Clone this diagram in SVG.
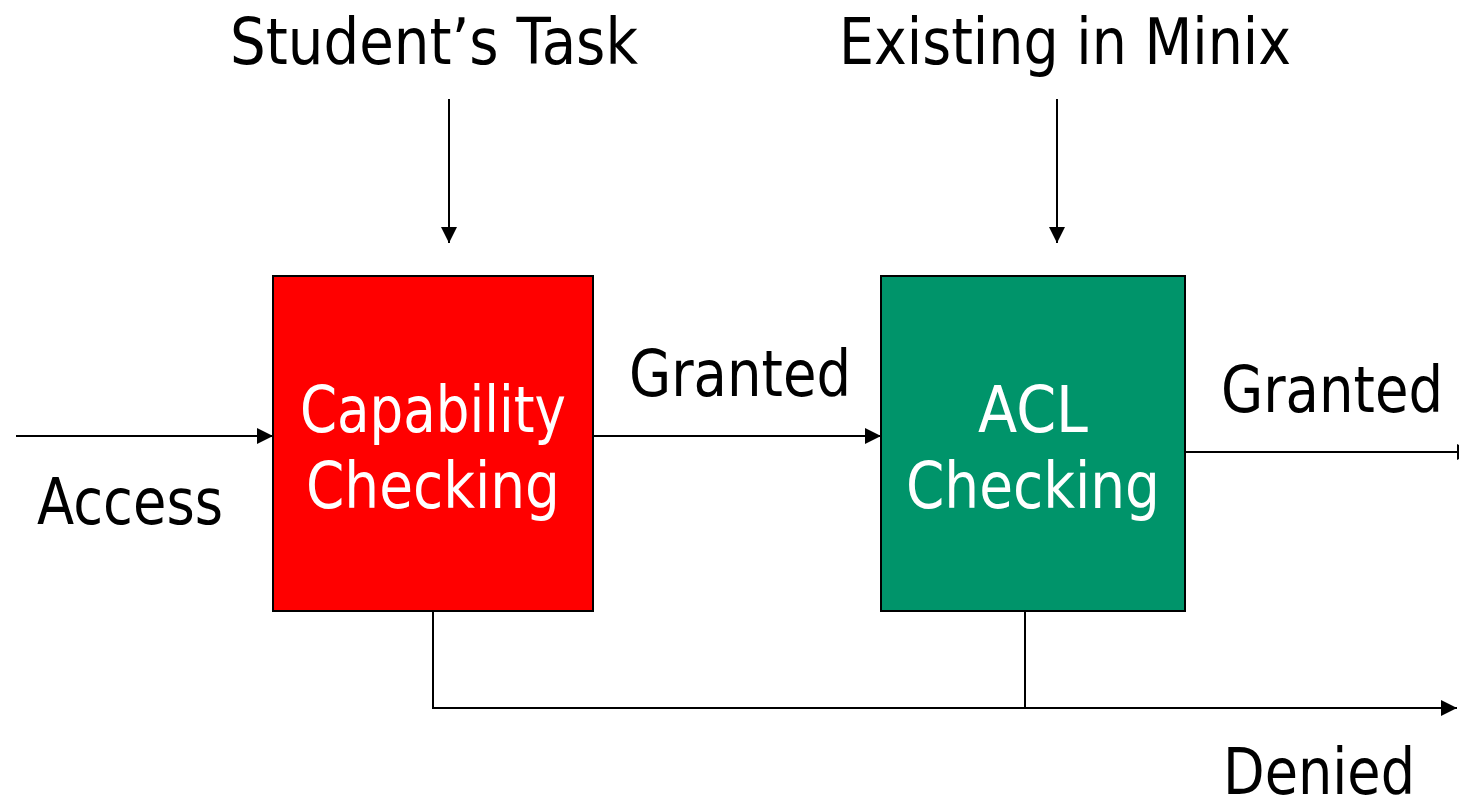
<svg xmlns="http://www.w3.org/2000/svg" width="1459" height="802" viewBox="0 0 1459 802">
<style>
text{font-family:"DejaVu Sans","Liberation Sans",sans-serif;font-size:64px;text-anchor:middle;}
.lbl{fill:#000;}
.in{fill:#fff;}
.box{stroke:#000;stroke-width:2;}
.conn{fill:none;stroke:#000;stroke-width:2;}
</style>
<defs>
<marker id="ah" markerUnits="userSpaceOnUse" markerWidth="16" markerHeight="16" refX="16" refY="8" orient="auto" viewBox="0 0 16 16">
<path d="M0,0 L16,8 L0,16 z" fill="#000"/>
</marker>
</defs>
<rect width="1459" height="802" fill="#fff"/>
<g id="connectors">
<line class="conn" x1="449" y1="99" x2="449" y2="243" marker-end="url(#ah)"/>
<line class="conn" x1="1057" y1="99" x2="1057" y2="243" marker-end="url(#ah)"/>
<line class="conn" x1="16" y1="436" x2="273" y2="436" marker-end="url(#ah)"/>
<line class="conn" x1="593" y1="436" x2="881" y2="436" marker-end="url(#ah)"/>
<line class="conn" x1="1185" y1="452" x2="1473" y2="452" marker-end="url(#ah)"/>
<path class="conn" d="M433,611 V708 H1457" marker-end="url(#ah)"/>
<path class="conn" d="M1025,611 V708"/>
</g>
<g id="capability">
<rect class="box" x="273" y="276" width="320" height="335" fill="#ff0000"/>
<text class="in" x="433" y="432" textLength="266" lengthAdjust="spacingAndGlyphs">Capability</text>
<text class="in" x="433" y="508" textLength="254" lengthAdjust="spacingAndGlyphs">Checking</text>
</g>
<g id="acl">
<rect class="box" x="881" y="276" width="304" height="335" fill="#00946a"/>
<text class="in" x="1033" y="432" textLength="110" lengthAdjust="spacingAndGlyphs">ACL</text>
<text class="in" x="1033" y="508" textLength="254" lengthAdjust="spacingAndGlyphs">Checking</text>
</g>
<g id="labels">
<text class="lbl" x="434" y="64" textLength="408" lengthAdjust="spacingAndGlyphs">Student’s Task</text>
<text class="lbl" x="1065" y="64" textLength="452" lengthAdjust="spacingAndGlyphs">Existing in Minix</text>
<text class="lbl" x="740" y="396" textLength="222" lengthAdjust="spacingAndGlyphs">Granted</text>
<text class="lbl" x="1332" y="412" textLength="222" lengthAdjust="spacingAndGlyphs">Granted</text>
<text class="lbl" x="130" y="524" textLength="186" lengthAdjust="spacingAndGlyphs">Access</text>
<text class="lbl" x="1319" y="794" textLength="192" lengthAdjust="spacingAndGlyphs">Denied</text>
</g>
</svg>
